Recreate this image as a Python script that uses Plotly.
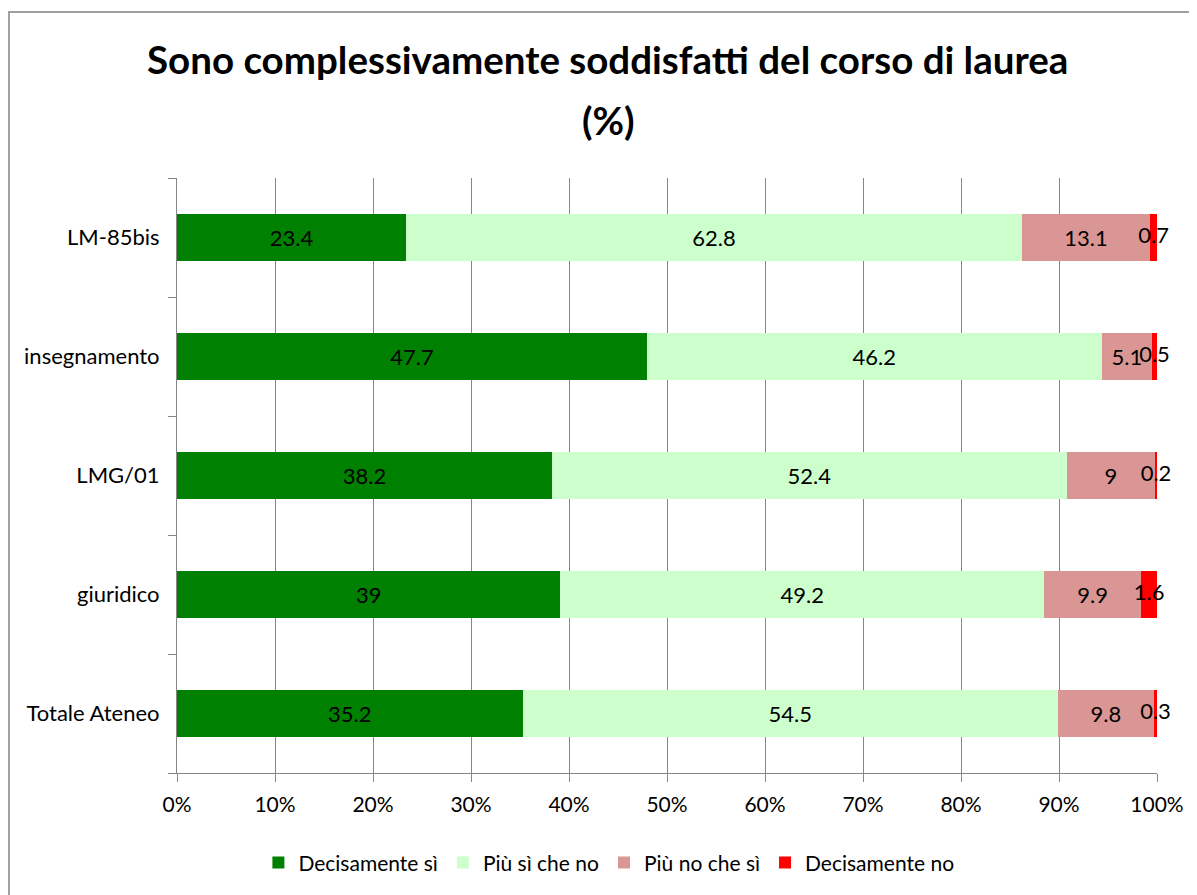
import plotly.graph_objects as go

categories = ["Totale Ateneo", "giuridico", "LMG/01", "insegnamento", "LM-85bis"]
decisamente_si = [35.2, 39, 38.2, 47.7, 23.4]
piu_si_che_no = [54.5, 49.2, 52.4, 46.2, 62.8]
piu_no_che_si = [9.8, 9.9, 9, 5.1, 13.1]
decisamente_no = [0.3, 1.6, 0.2, 0.5, 0.7]

series = [
    ("Decisamente sì", decisamente_si, "#008000"),
    ("Più sì che no", piu_si_che_no, "#CCFFCC"),
    ("Più no che sì", piu_no_che_si, "#DA9694"),
    ("Decisamente no", decisamente_no, "#FF0000"),
]

FONT = "Lato"
LBL = dict(color="black", size=22, family=FONT)

fig = go.Figure()
for name, vals, col in series:
    small = name == "Decisamente no"
    fig.add_trace(go.Bar(
        y=categories, x=vals, name=name, orientation="h",
        marker=dict(color=col, line=dict(width=0)),
        text=[str(v) for v in vals], texttemplate="%{text}",
        textposition="none" if small else "inside", insidetextanchor="middle",
        constraintext="none", textangle=0, cliponaxis=False,
        insidetextfont=LBL,
        hoverinfo="x+y+name",
    ))

# labels of the thin red segments, centred on the segment (barnorm=percent)
totals = [a + b + c + d for a, b, c, d in zip(decisamente_si, piu_si_che_no, piu_no_che_si, decisamente_no)]
red_mid = [(t - d / 2) / t * 100 for t, d in zip(totals, decisamente_no)]
fig.add_trace(go.Scatter(
    y=categories, x=red_mid, mode="text", text=[str(v) for v in decisamente_no],
    textposition="middle center", textfont=LBL, cliponaxis=False,
    showlegend=False, hoverinfo="skip",
))

fig.update_layout(
    barmode="stack", barnorm="percent", bargap=0.6,
    width=1197, height=895,
    margin=dict(l=169, r=48, t=170, b=130),
    paper_bgcolor="white", plot_bgcolor="white",
    font=dict(family=FONT, size=21, color="black"),
    title=dict(
        text="<b>Sono complessivamente soddisfatti del corso di laurea</b>",
        x=0.501, xanchor="center", y=0.956, yanchor="top",
        font=dict(size=38.5, family=FONT, color="black"),
    ),
    annotations=[dict(
        text="<b>(%)</b>", xref="paper", yref="paper",
        x=(608 - 177) / 980, y=(773 - 120) / 595, xanchor="center", yanchor="middle",
        showarrow=False, font=dict(size=38.5, family=FONT, color="black"),
    )],
    legend=dict(
        orientation="h", x=0.502, xanchor="center", xref="container",
        y=0.045, yanchor="middle", yref="container",
        font=dict(size=21, family=FONT), itemwidth=30, traceorder="normal",
    ),
    xaxis=dict(
        range=[0, 100], dtick=10, ticksuffix="%",
        showgrid=True, gridcolor="#868686", gridwidth=1,
        showline=True, linecolor="#868686", linewidth=1,
        ticks="outside", ticklen=8, tickcolor="#868686",
        zeroline=False, tickfont=dict(size=21), ticklabelstandoff=5,
    ),
    yaxis=dict(
        showline=True, linecolor="#868686", linewidth=1,
        ticks="outside", ticklen=8, tickcolor="#868686",
        tickson="boundaries", showgrid=False,
        tickfont=dict(size=22), ticklabelstandoff=12,
    ),
    shapes=[
        dict(type="rect", xref="paper", yref="paper",
             x0=(9 - 177) / 980, x1=1.2, y0=-0.4, y1=(773 - 12) / 595,
             line=dict(color="#A0A0A0", width=2), layer="below"),
    ],
)

fig.write_html("out.html")
